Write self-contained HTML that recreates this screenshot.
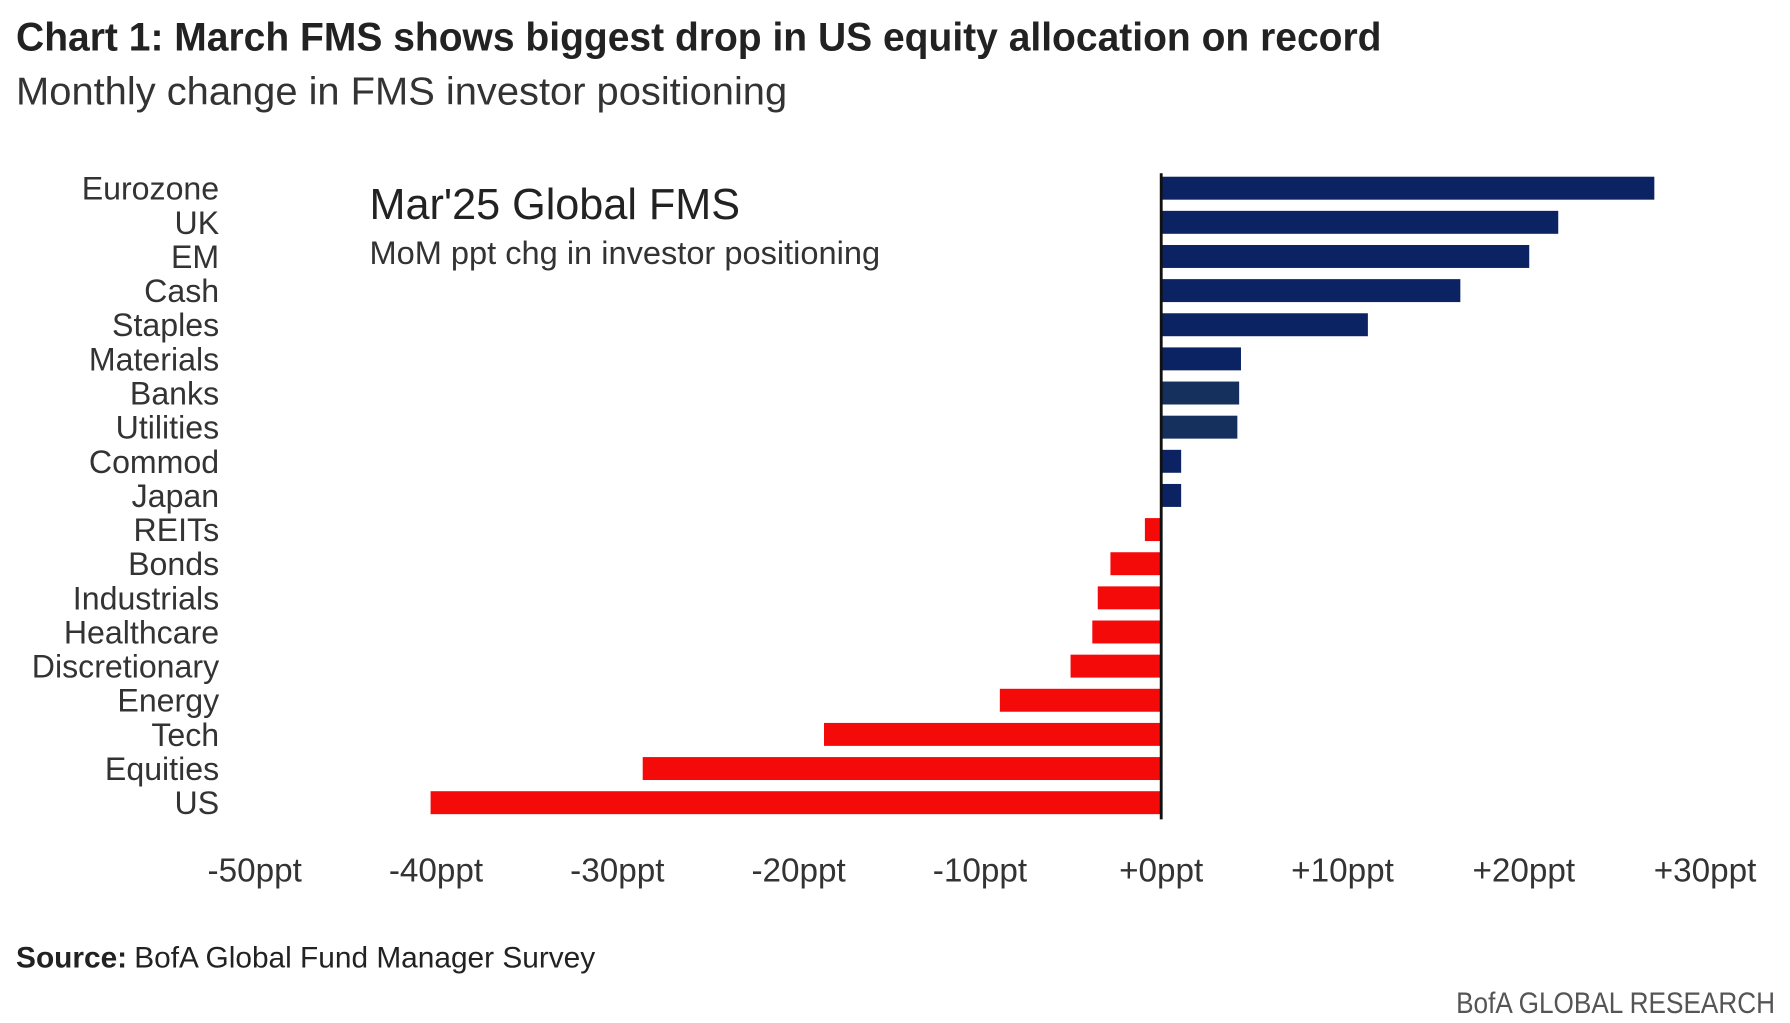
<!DOCTYPE html>
<html><head><meta charset="utf-8"><style>
html,body{margin:0;padding:0;background:#fff;}
svg{display:block;font-family:"Liberation Sans",sans-serif;}
</style></head><body>
<svg id="chart" width="1790" height="1023" viewBox="0 0 1560 891.5" preserveAspectRatio="none" xmlns="http://www.w3.org/2000/svg">
<text x="14" y="44" font-size="35" font-weight="bold" fill="#222" textLength="1190" lengthAdjust="spacingAndGlyphs">Chart 1: March FMS shows biggest drop in US equity allocation on record</text>
<text x="14" y="91" font-size="34" fill="#333" textLength="672" lengthAdjust="spacingAndGlyphs">Monthly change in FMS investor positioning</text>
<text x="322" y="191" font-size="38" fill="#222" textLength="323" lengthAdjust="spacingAndGlyphs">Mar'25 Global FMS</text>
<text x="322" y="230" font-size="28" fill="#333" textLength="445" lengthAdjust="spacingAndGlyphs">MoM ppt chg in investor positioning</text>
<g id="bars"></g>
<g id="labels"></g>
<g id="ticks"></g>
<line id="zero-axis" x1="1012" y1="151" x2="1012" y2="714" stroke="#111" stroke-width="2.5"/>
<text x="14" y="843" font-size="26" fill="#222"><tspan font-weight="bold">Source:</tspan><tspan x="117">BofA Global Fund Manager Survey</tspan></text>
<text x="1547" y="883" font-size="26" fill="#555" text-anchor="end" textLength="278" lengthAdjust="spacingAndGlyphs">BofA GLOBAL RESEARCH</text>
</svg>
<script>
const categories = ["Eurozone","UK","EM","Cash","Staples","Materials","Banks","Utilities","Commod","Japan","REITs","Bonds","Industrials","Healthcare","Discretionary","Energy","Tech","Equities","US"];
const values = [27.2,21.9,20.3,16.5,11.4,4.4,4.3,4.2,1.1,1.1,-0.9,-2.8,-3.5,-3.8,-5.0,-8.9,-18.6,-28.6,-40.3];
const tickValues = [-50,-40,-30,-20,-10,0,10,20,30];
const tickLabels = ["-50ppt","-40ppt","-30ppt","-20ppt","-10ppt","+0ppt","+10ppt","+20ppt","+30ppt"];

const NS = "http://www.w3.org/2000/svg";
function xScale(v){ return 1012 + v * 15.8; }
function yScale(i){ return 164 + i * 29.75; }
const barH = 20;
const gB = document.getElementById('bars');
const gL = document.getElementById('labels');
const gT = document.getElementById('ticks');
categories.forEach((c,i)=>{
  const v = values[i];
  const r = document.createElementNS(NS,'rect');
  
  
  const x0 = xScale(Math.min(0,v)), x1 = xScale(Math.max(0,v));
  r.setAttribute('x', x0); r.setAttribute('width', x1 - x0);
  r.setAttribute('y', yScale(i) - barH/2); r.setAttribute('height', barH);
  r.setAttribute('fill', v >= 0 ? (i>=6&&i<=7 ? '#16305e' : '#0b2263') : '#f50a0a');
  gB.appendChild(r);
  const t = document.createElementNS(NS,'text');
  
  
  t.setAttribute('x', 191); t.setAttribute('y', yScale(i) + 10);
  t.setAttribute('text-anchor', 'end'); t.setAttribute('font-size', '28');
  t.setAttribute('fill', '#333');
  t.textContent = c;
  gL.appendChild(t);
});
tickValues.forEach((v,i)=>{
  const t = document.createElementNS(NS,'text');
  
  
  t.setAttribute('x', xScale(v)); t.setAttribute('y', 768);
  t.setAttribute('text-anchor', 'middle'); t.setAttribute('font-size', '29');
  t.setAttribute('fill', '#333');
  t.textContent = tickLabels[i];
  gT.appendChild(t);
});
</script>
</body></html>
